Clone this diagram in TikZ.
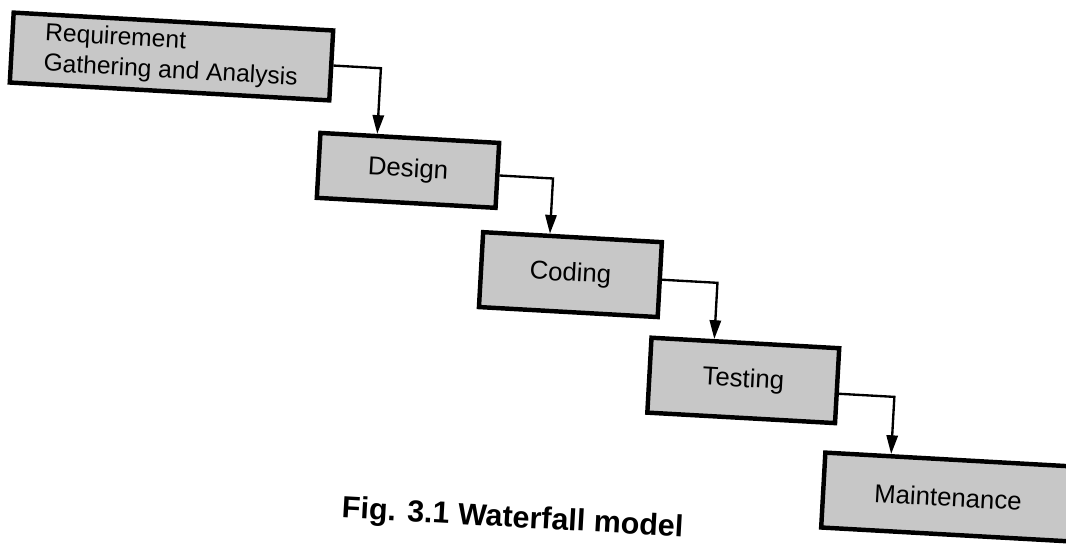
\documentclass[tikz,border=0pt]{standalone}
\usepackage{fontspec}
\setmainfont{Liberation Sans}
\usetikzlibrary{arrows.meta}
\tikzset{
  stagebox/.style={draw=black, line width=1.9pt, fill=black!22, inner sep=0pt,
    font=\fontsize{11}{11}\selectfont, align=center},
  arr/.style={draw=black, line width=1pt, -{Triangle[length=8pt,width=4.8pt]}},
}
\begin{document}
\begin{tikzpicture}[x=0.015cm,y=-0.015cm]
\useasboundingbox[fill=white] (0,0) rectangle (1066,544);
\begin{scope}[transform canvas={rotate around={-3.2:(533,272)}}]
\node[stagebox, minimum width=320*0.015cm, minimum height=70*0.015cm, align=left,
  font=\fontsize{10.5}{13}\selectfont] (req) at (160,77) {Requirement\\Gathering and Analysis};
\node[stagebox, minimum width=179*0.015cm, minimum height=65*0.015cm] (design) at (402.5,177.5) {Design};
\node[stagebox, minimum width=179*0.015cm, minimum height=75*0.015cm] (coding) at (570.5,272.5) {Coding};
\node[stagebox, minimum width=188*0.015cm, minimum height=75*0.015cm] (testing) at (749,368.5) {Testing};
\node[stagebox, minimum width=250*0.015cm, minimum height=75*0.015cm] (maint) at (960,473.5) {Maintenance};
\draw[arr] (req.east) -| ([xshift=59*0.015cm]design.north west);
\draw[arr] (design.east) -| ([xshift=69*0.015cm]coding.north west);
\draw[arr] (coding.east) -| ([xshift=65*0.015cm]testing.north west);
\draw[arr] ([yshift=-8*0.015cm]testing.east) -| ([xshift=68*0.015cm]maint.north west);
\node[anchor=base west, inner sep=0pt, font=\fontsize{13}{15}\selectfont\bfseries] (cap) at (355,528) {Fig. 3.1 Waterfall model};
\end{scope}
\end{tikzpicture}
\end{document}
